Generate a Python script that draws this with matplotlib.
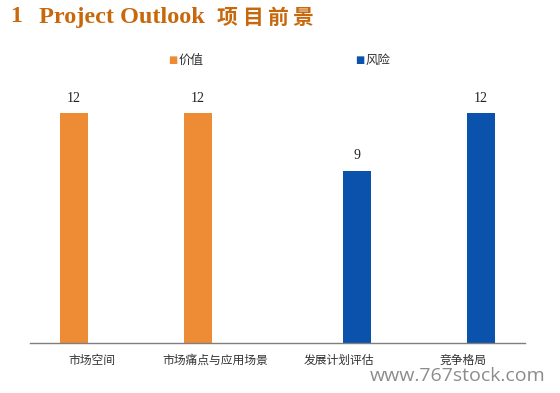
import numpy as np
import matplotlib.pyplot as plt

plt.rcParams['font.family'] = ['Noto Sans CJK SC', 'DejaVu Sans']

categories = ['市场空间', '市场痛点与应用场景', '发展计划评估', '竞争格局']
value = [12, 12, 0, 0]   # 价值
risk = [0, 0, 9, 12]     # 风险

orange = '#EE8C35'
blue = '#0B52AC'
title_color = '#C8680C'

fig = plt.figure(figsize=(5.6, 3.93), dpi=100)
ax = fig.add_axes([30 / 560, 50 / 393, 495 / 560, 268 / 393])

x = np.arange(len(categories))
w = 0.226
off = 0.145
b1 = ax.bar(x - off, value, width=w, color=orange, label='价值')
b2 = ax.bar(x + off, risk, width=w, color=blue, label='风险')

for bars, vals in ((b1, value), (b2, risk)):
    for rect, v in zip(bars, vals):
        if v:
            ax.text(rect.get_x() + rect.get_width() / 2, v + 0.45, str(v),
                    ha='center', va='bottom', fontsize=10,
                    family='Liberation Serif', color='#222222')

ax.set_xlim(-0.5, len(categories) - 0.5)
ax.set_ylim(0, 14)
ax.set_xticks(x)
ax.set_xticklabels(categories, fontsize=8.5, color='#333333')
ax.tick_params(axis='x', length=0, pad=8)
ax.set_yticks([])
for side in ('top', 'right', 'left'):
    ax.spines[side].set_visible(False)
ax.spines['bottom'].set_color('#7F7F7F')
ax.spines['bottom'].set_linewidth(1.0)

# legend entries placed like the original
fig.text(168 / 560, 1 - 60 / 393, '■', color=orange, fontsize=7, va='center', family='DejaVu Sans')
fig.text(179 / 560, 1 - 60 / 393, '价值', color='#333333', fontsize=9, va='center')
fig.text(355 / 560, 1 - 60 / 393, '■', color=blue, fontsize=7, va='center', family='DejaVu Sans')
fig.text(366 / 560, 1 - 60 / 393, '风险', color='#333333', fontsize=9, va='center')

# title
fig.text(10 / 560, 1 - 17 / 393, '1', color=title_color, fontsize=17,
         family='Liberation Serif', fontweight='bold', va='center')
fig.text(39 / 560, 1 - 17 / 393, 'Project Outlook', color=title_color, fontsize=17.5,
         family='Liberation Serif', fontweight='bold', va='center')
for i, ch in enumerate('项目前景'):
    fig.text((217 + i * 25) / 560, 1 - 17 / 393, ch, color=title_color, fontsize=15,
             fontweight='bold', va='center')

# watermark
fig.text(546 / 560, 1 - 376 / 393, 'www.767stock.com', color='#8C8C8C', fontsize=14,
         family='Open Sans', ha='right', va='center')

fig.savefig('out.png', dpi=100)
